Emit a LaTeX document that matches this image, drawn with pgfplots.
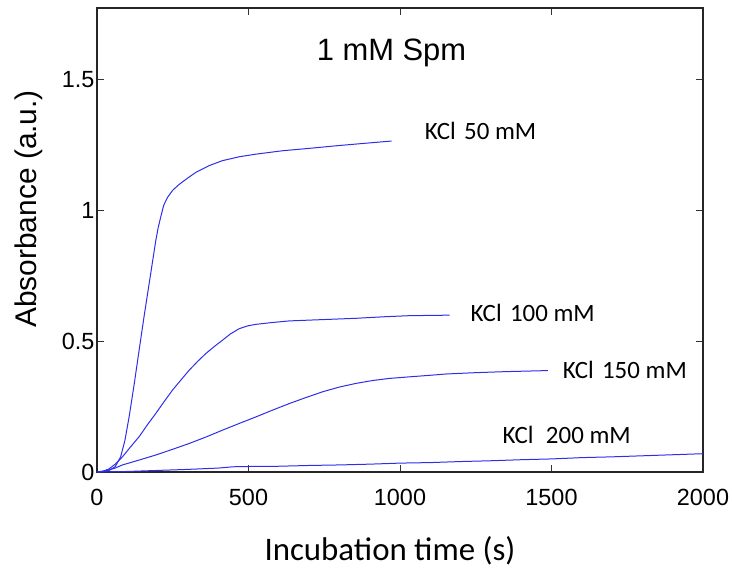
\documentclass[border=0pt]{standalone}
\usepackage{pgfplots}
\pgfplotsset{compat=1.18}
\usepackage{fontspec}
\setmainfont{Liberation Sans}
\newfontfamily\calibri{Carlito}
\definecolor{curve}{RGB}{45,45,235}
\tikzset{kurve/.style={color=curve, line width=1bp, mark=none}}
\begin{document}
\begin{tikzpicture}
\path[use as bounding box] (0,0) rectangle (732bp,577bp);
\begin{axis}[
  at={(97bp,105bp)}, anchor=south west,
  scale only axis, width=606bp, height=464bp,
  xmin=0, xmax=2000, ymin=0, ymax=1.775,
  xtick={0,500,1000,1500,2000},
  ytick={0,0.5,1,1.5},
  tick align=inside,
  major tick length=7bp,
  axis line style={line width=1.3bp, black!85},
  every tick/.style={line width=1bp, black!80},
  /pgf/number format/assume math mode=true,
  /pgf/number format/1000 sep={},
  ticklabel style={font=\fontsize{23.5}{27}\selectfont},
  xticklabel style={yshift=-14bp},
  yticklabel style={xshift=1bp},
  xlabel={Incubation time (s)},
  ylabel={Absorbance (a.u.)},
  xlabel style={font=\calibri\fontsize{33}{38}\selectfont, at={(axis description cs:0.4835,-0.170)}, anchor=center},
  ylabel style={font=\fontsize{30}{35}\selectfont, at={(axis description cs:-0.112,0.567)}, anchor=center, rotate=0},
  clip=false,
]
% KCl 50 mM
\addplot[kurve] coordinates {
(0,0) (20,0.002) (40,0.006) (60,0.02) (78,0.058) (92,0.12) (106,0.211) (122,0.33) (139,0.466) (156,0.6) (172,0.72) (184,0.81) (194,0.885) (202,0.935) (210,0.974) (220,1.02) (233,1.051) (250,1.078) (271,1.10) (300,1.125) (326,1.146) (370,1.172) (414,1.191) (470,1.206) (525,1.216) (613,1.229) (700,1.238) (800,1.249) (900,1.259) (972,1.266)
};
% KCl 100 mM
\addplot[kurve] coordinates {
(0,0) (20,0.003) (40,0.012) (60,0.03) (84,0.058) (110,0.095) (139,0.135) (166,0.18) (194,0.224) (222,0.27) (249,0.313) (277,0.352) (304,0.389) (332,0.423) (359,0.453) (387,0.48) (414,0.504) (440,0.528) (469,0.548) (497,0.559) (525,0.565) (580,0.572) (635,0.578) (745,0.583) (855,0.588) (950,0.594) (1031,0.598) (1100,0.599) (1164,0.600)
};
% KCl 150 mM
\addplot[kurve] coordinates {
(0,0) (30,0.005) (60,0.015) (84,0.027) (140,0.046) (194,0.065) (250,0.087) (304,0.109) (360,0.134) (414,0.16) (470,0.186) (525,0.211) (580,0.237) (635,0.262) (690,0.285) (745,0.307) (800,0.325) (855,0.339) (910,0.35) (965,0.358) (1031,0.364) (1100,0.370) (1153,0.375) (1250,0.380) (1350,0.384) (1420,0.386) (1488,0.388)
};
% KCl 200 mM
\addplot[kurve] coordinates {
(0,0) (100,0.002) (200,0.006) (300,0.010) (400,0.015) (450,0.020) (500,0.021) (600,0.022) (700,0.025) (800,0.027) (900,0.030) (1000,0.034) (1100,0.036) (1200,0.040) (1300,0.043) (1400,0.047) (1500,0.050) (1600,0.055) (1700,0.058) (1800,0.062) (1900,0.066) (2000,0.070)
};
\node[font=\fontsize{31}{36}\selectfont] at (axis cs:972,1.603) {1 mM Spm};
\node[font=\calibri\fontsize{25}{29}\selectfont] at (axis cs:1266,1.305) {KCl\,\,50 mM};
\node[font=\calibri\fontsize{25}{29}\selectfont] at (axis cs:1438,0.607) {KCl\,\,100 mM};
\node[font=\calibri\fontsize{25}{29}\selectfont] at (axis cs:1742,0.389) {KCl\,\,150 mM};
\node[font=\calibri\fontsize{25}{29}\selectfont] at (axis cs:1550,0.141) {KCl\,\,\,200 mM};
\end{axis}
\end{tikzpicture}
\end{document}
